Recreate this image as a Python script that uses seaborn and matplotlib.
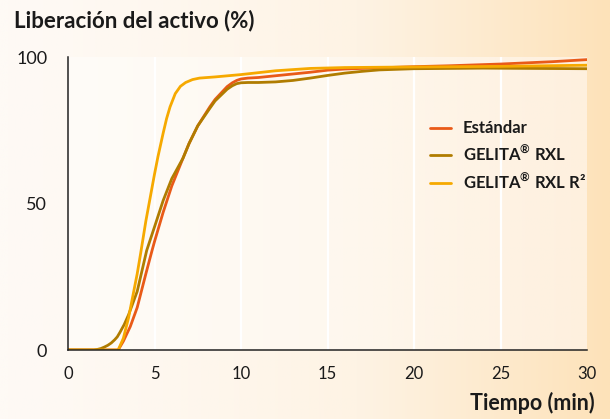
import numpy as np
import pandas as pd
import matplotlib
matplotlib.use("Agg")
import matplotlib.pyplot as plt
from matplotlib.colors import LinearSegmentedColormap
import seaborn as sns

# ---- data ----
t_std = [0, 2.9, 3.2, 3.6, 4.0, 4.5, 4.86, 5.0, 5.5, 6.0, 6.65, 7.0, 7.5, 8.2, 8.5, 9.2, 9.5, 9.75, 10.0, 10.4,
         11, 12, 14, 15, 16, 18, 20, 22, 25, 28, 30]
v_std = [0, 0, 3, 8, 14.5, 26, 34, 37, 47, 56, 65.5, 70.5, 76.5, 83, 85.5, 89.9, 91.2, 92.0, 92.5, 92.8,
         93, 93.6, 94.8, 95.5, 95.9, 96.3, 96.7, 97.0, 97.6, 98.4, 99.1]

t_rxl = [0, 1.5, 1.7, 1.9, 2.1, 2.3, 2.5, 2.7, 2.85, 3.0, 3.25, 3.5, 4.0, 4.55, 5.0, 5.5, 6.0, 6.65, 7.0, 7.5,
         8.2, 8.5, 9.2, 9.5, 9.75, 10.0, 10.4, 11, 12, 13, 14, 15, 16, 17, 18, 20, 24, 30]
v_rxl = [0, 0, 0.2, 0.5, 1.0, 1.6, 2.4, 3.5, 4.5, 6, 8.7, 12, 20, 34, 42, 51, 58.5, 65.5, 70.5, 76.5,
         82.5, 85, 89, 90.2, 90.9, 91.2, 91.3, 91.3, 91.5, 92.0, 92.8, 93.7, 94.5, 95.1, 95.6, 96.0, 96.2, 96.0]

t_r2 = [0, 2.9, 3.2, 3.5, 4.0, 4.2, 4.5, 5.0, 5.2, 5.5, 5.7, 5.9, 6.2, 6.5, 6.8, 7.2, 7.6, 8.5, 10,
        12, 14, 16, 20, 25, 30]
v_r2 = [0, 0, 4, 11, 26, 33, 44, 60, 66, 74, 79, 83, 87.5, 90, 91.3, 92.3, 92.8, 93.2, 94,
        95.3, 96.1, 96.4, 96.6, 96.8, 97.2]

series_names = ["Estándar", "GELITA® RXL", "GELITA® RXL R²"]
legend_labels = ["Estándar", r"GELITA$^{\mathbf{®}}$ RXL", r"GELITA$^{\mathbf{®}}$ RXL R²"]
series_colors = ["#E95A18", "#B07C00", "#F6A900"]

x_ticks = [0, 5, 10, 15, 20, 25, 30]
y_ticks = [0, 50, 100]
title_text = "Liberación del activo (%)"
xlabel_text = "Tiempo (min)"

df = pd.concat([
    pd.DataFrame({"t": t_std, "v": v_std, "serie": series_names[0]}),
    pd.DataFrame({"t": t_rxl, "v": v_rxl, "serie": series_names[1]}),
    pd.DataFrame({"t": t_r2, "v": v_r2, "serie": series_names[2]}),
], ignore_index=True)

sns.set_style("white")
plt.rcParams["font.family"] = ["Lato", "DejaVu Sans"]
plt.rcParams["mathtext.fontset"] = "custom"
plt.rcParams["mathtext.rm"] = "Lato"
plt.rcParams["mathtext.bf"] = "Lato:bold"

W, H = 610, 419
fig = plt.figure(figsize=(W / 100, H / 100), dpi=100)

# figure background gradient
bg = fig.add_axes([0, 0, 1, 1], zorder=-10)
bg_cmap = LinearSegmentedColormap.from_list("bg", ["#FEFAF5", "#FEF3E4", "#FDE2B9"])
grad = np.tile(np.linspace(0, 1, 256) ** 1.3, (10, 1))
bg.imshow(grad, cmap=bg_cmap, aspect="auto", extent=[0, 1, 0, 1])
bg.set_axis_off()

left, right = 68 / W, 587 / W
bottom, top = (H - 350) / H, (H - 57) / H
ax = fig.add_axes([left, bottom, right - left, top - bottom])
ax.patch.set_alpha(0)

# axes background gradient
ax_cmap = LinearSegmentedColormap.from_list("axbg", ["#FFFCF8", "#FEF8EF", "#FEF0DE"])
ax.imshow(np.tile(np.linspace(0, 1, 256), (10, 1)), cmap=ax_cmap, aspect="auto",
          extent=[0, 30, 0, 100], zorder=0)

for xv in x_ticks[1:-1]:
    ax.axvline(xv, color="white", lw=1.6, zorder=1)

sns.lineplot(data=df, x="t", y="v", hue="serie", palette=series_colors,
             hue_order=series_names, lw=2.0, ax=ax, zorder=3, legend=True)
for ln in ax.get_lines():
    ln.set_solid_joinstyle("round")
    ln.set_solid_capstyle("round")

ax.set_xlim(0, 30)
ax.set_ylim(0, 100)
ax.set_xticks(x_ticks)
ax.set_yticks(y_ticks)
ax.set_xlabel("")
ax.set_ylabel("")

for s in ["top", "right"]:
    ax.spines[s].set_visible(False)
for s in ["left", "bottom"]:
    ax.spines[s].set_color("#222222")
    ax.spines[s].set_linewidth(1.1)
    ax.spines[s].set_zorder(4)

ax.tick_params(axis="x", direction="out", length=9.5, width=1.1, color="#555555",
               labelsize=12, labelcolor="#1a1a1a", pad=2)
ax.tick_params(axis="y", direction="out", length=10, width=1.1, color="#222222",
               labelsize=13, labelcolor="#1a1a1a", pad=5)

handles, _ = ax.get_legend_handles_labels()
leg = ax.legend(handles, legend_labels, loc="upper left", bbox_to_anchor=(0.668, 0.835),
                frameon=False, handlelength=1.3, handletextpad=0.7, labelspacing=0.45,
                prop={"weight": "bold", "size": 12})
for h in leg.get_lines():
    h.set_linewidth(2.0)
for txt in leg.get_texts():
    txt.set_color("#1a1a1a")

fig.text(14 / W, 1 - 27 / H, title_text, fontsize=16, fontweight="bold",
         color="#1a1a1a", ha="left", va="baseline")
fig.text(595 / W, 1 - 410 / H, xlabel_text, fontsize=15.5, fontweight="bold",
         color="#1a1a1a", ha="right", va="baseline")

fig.savefig("out.png", dpi=100)
